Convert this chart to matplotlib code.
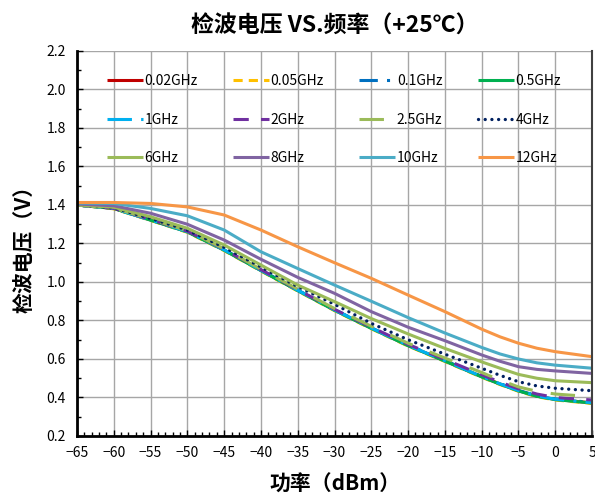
import matplotlib
matplotlib.use("Agg")
import matplotlib.pyplot as plt
from matplotlib.ticker import MultipleLocator

plt.rcParams['font.family'] = ['Noto Sans CJK SC', 'DejaVu Sans']

power = [-65, -60, -55, -50, -45, -40, -35, -30, -25, -20, -15, -10, -7.5, -5, -2.5, 0, 5]

v_002 = [1.400, 1.382, 1.322, 1.261, 1.166, 1.060, 0.956, 0.854, 0.760, 0.670, 0.590, 0.508, 0.470, 0.435, 0.407, 0.390, 0.372]
v_005 = [1.400, 1.380, 1.320, 1.258, 1.163, 1.057, 0.953, 0.851, 0.757, 0.667, 0.587, 0.505, 0.467, 0.432, 0.404, 0.387, 0.369]
v_01 = [1.400, 1.383, 1.324, 1.263, 1.168, 1.062, 0.958, 0.856, 0.762, 0.672, 0.592, 0.510, 0.472, 0.437, 0.409, 0.392, 0.374]
v_05 = [1.400, 1.382, 1.321, 1.260, 1.165, 1.059, 0.955, 0.853, 0.759, 0.669, 0.589, 0.507, 0.469, 0.434, 0.406, 0.389, 0.371]
v_1 = [1.400, 1.381, 1.322, 1.262, 1.167, 1.061, 0.957, 0.855, 0.761, 0.671, 0.591, 0.509, 0.471, 0.436, 0.408, 0.391, 0.373]
v_2 = [1.400, 1.383, 1.325, 1.264, 1.170, 1.064, 0.960, 0.858, 0.765, 0.676, 0.598, 0.518, 0.480, 0.445, 0.418, 0.400, 0.387]
v_25 = [1.400, 1.384, 1.327, 1.266, 1.172, 1.066, 0.963, 0.862, 0.770, 0.682, 0.605, 0.530, 0.490, 0.455, 0.432, 0.418, 0.404]
v_4 = [1.400, 1.385, 1.330, 1.270, 1.180, 1.078, 0.976, 0.884, 0.785, 0.700, 0.625, 0.552, 0.515, 0.482, 0.460, 0.448, 0.435]
v_6 = [1.400, 1.388, 1.339, 1.279, 1.192, 1.088, 0.984, 0.898, 0.810, 0.730, 0.655, 0.585, 0.552, 0.520, 0.500, 0.487, 0.477]
v_8 = [1.405, 1.396, 1.357, 1.300, 1.218, 1.118, 1.024, 0.941, 0.846, 0.765, 0.695, 0.621, 0.588, 0.560, 0.546, 0.538, 0.525]
v_10 = [1.410, 1.408, 1.382, 1.344, 1.270, 1.157, 1.070, 0.984, 0.900, 0.815, 0.735, 0.660, 0.626, 0.600, 0.580, 0.568, 0.552]
v_12 = [1.413, 1.413, 1.408, 1.390, 1.348, 1.270, 1.183, 1.100, 1.019, 0.932, 0.846, 0.755, 0.715, 0.682, 0.656, 0.638, 0.612]

labels = ['0.02GHz', '0.05GHz', '0.1GHz', '0.5GHz', '1GHz', '2GHz', '2.5GHz', '4GHz',
          '6GHz', '8GHz', '10GHz', '12GHz']
series = [v_002, v_005, v_01, v_05, v_1, v_2, v_25, v_4, v_6, v_8, v_10, v_12]
colors = ['#C00000', '#FFC000', '#0070C0', '#00B050', '#00B0F0', '#7030A0', '#9BBB59',
          '#002060', '#9BBB59', '#8064A2', '#4BACC6', '#F79646']
styles = ['-', (0, (3, 2)), (0, (6, 3, 1, 3)), '-', (0, (8, 3, 1, 3)), (0, (5, 4)),
          (0, (8, 6)), (0, (0.01, 2.0)), '-', '-', '-', '-']

fig = plt.figure(figsize=(5.95, 4.99), dpi=100)
ax = fig.add_axes([0.1294, 0.1263, 0.8656, 0.7715])

handles = []
for y, lab, c, ls in zip(series, labels, colors, styles):
    h, = ax.plot(power, y, color=c, linestyle=ls, linewidth=2.2, label=lab,
                 dash_capstyle='butt', solid_capstyle='butt', solid_joinstyle='round')
    handles.append(h)
# make the 4GHz dots round
handles[7].set_dash_capstyle('round')
handles[7].set_linewidth(2.4)

ax.set_xlim(-65, 5)
ax.set_ylim(0.2, 2.2)
ax.xaxis.set_major_locator(MultipleLocator(5))
ax.xaxis.set_minor_locator(MultipleLocator(1))
ax.yaxis.set_major_locator(MultipleLocator(0.2))
ax.yaxis.set_minor_locator(MultipleLocator(0.1))
ax.yaxis.set_major_formatter(plt.FuncFormatter(lambda v, p: f"{v:.1f}"))
ax.grid(True, which='major', color='#A6A6A6', linewidth=1.0)
ax.set_axisbelow(True)

ax.tick_params(axis='both', which='both', direction='in', labelsize=10, colors='black')
ax.tick_params(axis='both', which='major', length=4, width=1)
ax.tick_params(axis='both', which='minor', length=3, width=1)
ax.tick_params(axis='y', which='both', right=False, pad=8)
ax.tick_params(axis='x', which='both', top=False, pad=7)

for s in ['left', 'bottom']:
    ax.spines[s].set_linewidth(2)
    ax.spines[s].set_color('black')
ax.spines['top'].set_visible(False)
ax.spines['right'].set_color('#404040')
ax.spines['right'].set_linewidth(1.5)

order = [0, 4, 8, 1, 5, 9, 2, 6, 10, 3, 7, 11]
ax.legend([handles[i] for i in order], [labels[i] for i in order], ncol=4,
          loc='upper left', bbox_to_anchor=(0.034, 0.972), frameon=False, fontsize=10,
          handlelength=2.6, handletextpad=0.1, labelspacing=1.75, columnspacing=2.55)

ax.set_title('检波电压 VS.频率（+25℃）', fontsize=16.5, fontweight='bold', pad=13)
ax.set_xlabel('功率（dBm）', fontsize=15, fontweight='bold', labelpad=10)
ax.set_ylabel('检波电压（V）', fontsize=15, fontweight='bold', labelpad=8)

fig.savefig('out.png', dpi=100)
